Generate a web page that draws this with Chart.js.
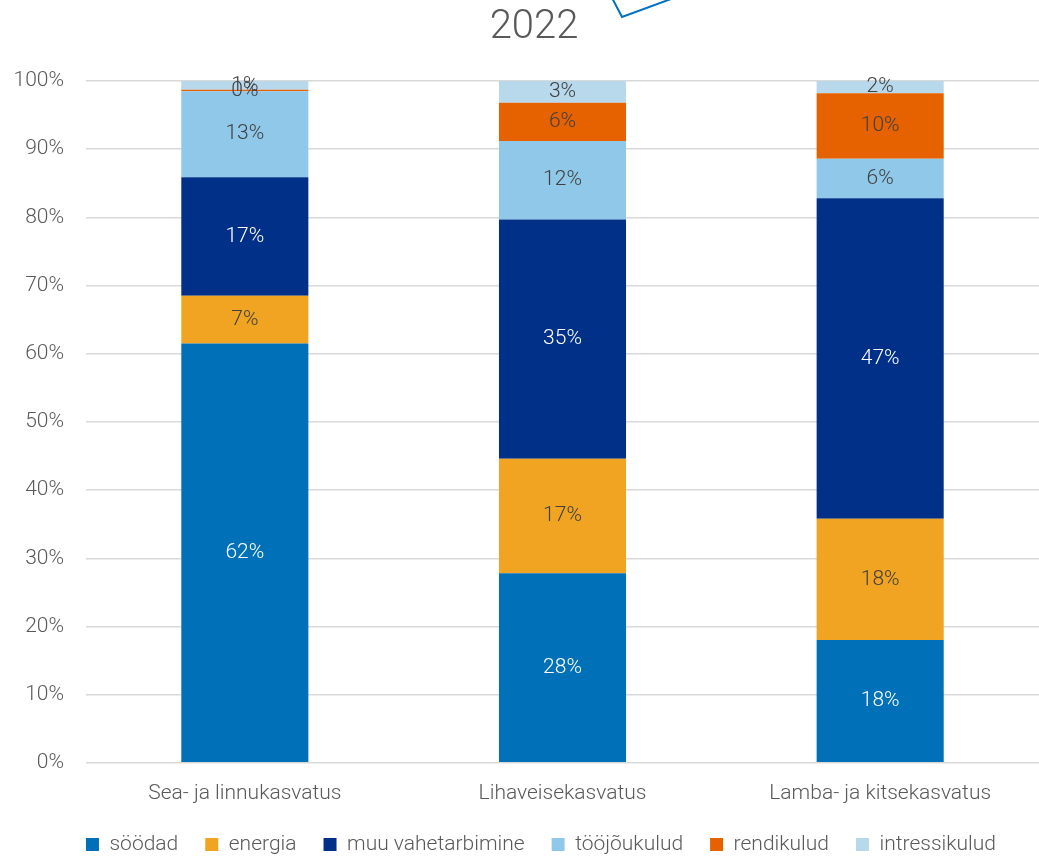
<!DOCTYPE html>
<html>
<head>
<meta charset="utf-8">
<title>2022</title>
<script src="https://cdn.jsdelivr.net/npm/chart.js@4.4.1/dist/chart.umd.min.js"></script>
<style>
  html, body { margin: 0; padding: 0; background: #ffffff; }
  #wrap { width: 1039px; height: 857px; position: relative; }
</style>
</head>
<body>
<div id="wrap"><canvas id="costChart"></canvas></div>
<script>
// Kulude struktuur 2022 (% kogukuludest)
const categories = ['Sea- ja linnukasvatus', 'Lihaveisekasvatus', 'Lamba- ja kitsekasvatus'];
const seriesNames = ['söödad', 'energia', 'muu vahetarbimine', 'tööjõukulud', 'rendikulud', 'intressikulud'];

const soodad = [61.5, 27.8, 18.0];
const energia = [7.0, 16.8, 17.8];
const muuVahetarbimine = [17.4, 35.1, 47.0];
const toojoukulud = [12.6, 11.5, 5.8];
const rendikulud = [0.2, 5.6, 9.6];
const intressikulud = [1.3, 3.2, 1.8];

const yTicks = [0, 10, 20, 30, 40, 50, 60, 70, 80, 90, 100];
const chartTitle = '2022';

const COLORS = ['#0070b8', '#f0a422', '#003087', '#8fc8e8', '#e66100', '#b8d8ec'];
const LABEL_COLORS = ['#ffffff', '#404040', '#ffffff', '#404040', '#404040', '#404040'];
const TEXT = '#595959';
const FONT = "Roboto, sans-serif";

// Percent labels in the middle of each segment
const segmentLabels = {
  id: 'segmentLabels',
  afterDatasetsDraw(chart) {
    const ctx = chart.ctx;
    ctx.save();
    ctx.font = `300 21px ${FONT}`;
    ctx.textAlign = 'center';
    ctx.textBaseline = 'middle';
    chart.data.datasets.forEach((ds, i) => {
      const meta = chart.getDatasetMeta(i);
      meta.data.forEach((bar, j) => {
        const v = ds.data[j];
        ctx.fillStyle = LABEL_COLORS[i];
        ctx.fillText(Math.round(v) + '%', bar.x, (bar.y + bar.base) / 2);
      });
    });
    ctx.restore();
  }
};

// Title (slightly right of centre, as in the original) and the
// leftover outline of a shape poking in at the top edge
const topDecor = {
  id: 'topDecor',
  afterDraw(chart) {
    const ctx = chart.ctx;
    ctx.save();
    ctx.font = `300 40px ${FONT}`;
    ctx.fillStyle = TEXT;
    ctx.textAlign = 'center';
    ctx.textBaseline = 'middle';
    ctx.fillText(chartTitle, 534, 28);

    ctx.strokeStyle = '#0070c0';
    ctx.lineWidth = 2;
    ctx.beginPath();
    ctx.moveTo(610, -6);
    ctx.lineTo(622, 17);
    ctx.lineTo(690, -8);
    ctx.stroke();
    ctx.restore();
  }
};

// The legend in the original sits a bit right of the page centre
// and closer to the axis labels than the default layout gives
const legendShift = {
  id: 'legendShift',
  afterLayout(chart) {
    const lg = chart.legend;
    if (!lg) return;
    const dx = 541 - (lg.left + lg.right) / 2;
    const dy = -9;
    lg.left += dx;
    lg.right += dx;
    lg.top += dy;
    lg.bottom += dy;
  }
};

const series = [soodad, energia, muuVahetarbimine, toojoukulud, rendikulud, intressikulud];

new Chart(document.getElementById('costChart'), {
  type: 'bar',
  data: {
    labels: categories,
    datasets: series.map((values, i) => ({
      label: seriesNames[i],
      data: values,
      backgroundColor: COLORS[i],
      borderWidth: 0,
      categoryPercentage: 1,
      barPercentage: 0.4
    }))
  },
  options: {
    responsive: true,
    maintainAspectRatio: false,
    animation: false,
    layout: { padding: { left: 0, right: 0, top: 81, bottom: -17 } },
    scales: {
      x: {
        stacked: true,
        grid: { display: false },
        border: { display: false },
        ticks: { color: TEXT, font: { family: FONT, size: 21, weight: 300 }, padding: 10 }
      },
      y: {
        stacked: true,
        min: 0,
        max: 100,
        afterBuildTicks: (axis) => { axis.ticks = yTicks.map(v => ({ value: v })); },
        afterFit: (axis) => { axis.width = 86; },
        grid: { color: '#d9d9d9', lineWidth: 1.5, drawTicks: false },
        border: { display: false },
        ticks: {
          color: TEXT,
          font: { family: FONT, size: 21, weight: 300 },
          padding: 22,
          callback: (v) => v + '%'
        }
      }
    },
    plugins: {
      title: { display: false },
      legend: {
        position: 'bottom',
        labels: {
          color: TEXT,
          font: { family: FONT, size: 21, weight: 300 },
          boxWidth: 13,
          boxHeight: 13,
          padding: 27
        }
      },
      tooltip: { enabled: false }
    }
  },
  plugins: [segmentLabels, topDecor, legendShift]
});
</script>
</body>
</html>
